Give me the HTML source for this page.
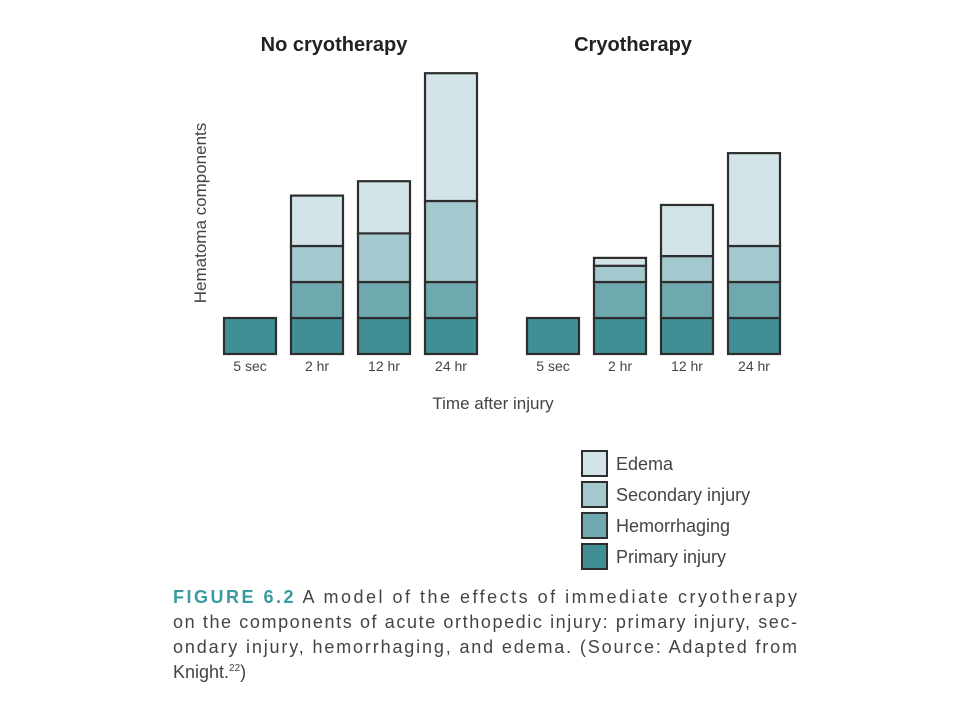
<!DOCTYPE html>
<html><head><meta charset="utf-8"><style>
html,body{margin:0;padding:0;background:#fff;}
svg{display:block;font-family:"Liberation Sans",Arial,sans-serif;}
</style></head><body>
<svg id="chart" width="960" height="720" viewBox="0 0 960 720" xmlns="http://www.w3.org/2000/svg">
<text x="334" y="51" text-anchor="middle" font-size="20" font-weight="bold" fill="#222">No cryotherapy</text>
<text x="633" y="51" text-anchor="middle" font-size="20" font-weight="bold" fill="#222">Cryotherapy</text>
<text transform="translate(206,213) rotate(-90)" text-anchor="middle" font-size="17" fill="#444">Hematoma components</text>
<text x="493" y="409" text-anchor="middle" font-size="17" fill="#444">Time after injury</text>
<g id="bars"></g>
<g id="legend"></g>
<g font-size="18" fill="#444">
<text x="173" y="603" textLength="624" lengthAdjust="spacing"><tspan fill="#3a9aa0" font-weight="bold">FIGURE 6.2</tspan> A model of the effects of immediate cryotherapy</text>
<text x="173" y="628" textLength="624" lengthAdjust="spacing">on the components of acute orthopedic injury: primary injury, sec-</text>
<text x="173" y="653" textLength="624" lengthAdjust="spacing">ondary injury, hemorrhaging, and edema. (Source: Adapted from</text>
<text x="173" y="678">Knight.<tspan font-size="10" dy="-7">22</tspan><tspan dy="7">)</tspan></text>
</g>
</svg>
<script>
const categories = ["5 sec","2 hr","12 hr","24 hr"];
const series = ["Primary injury","Hemorrhaging","Secondary injury","Edema"];
const colors = ["#3f8f95","#6fa9b0","#a3c8cd","#d2e4e7"];
const noCryoPrimary = [1,1,1,1];
const noCryoHemorrhaging = [0,1,1,1];
const noCryoSecondary = [0,1,1.35,2.25];
const noCryoEdema = [0,1.4,1.45,3.55];
const cryoPrimary = [1,1,1,1];
const cryoHemorrhaging = [0,1,1,1];
const cryoSecondary = [0,0.45,0.72,1];
const cryoEdema = [0,0.22,1.42,2.58];

const NS="http://www.w3.org/2000/svg";
const baseY=354, unit=36, barW=52, step=67;
const yScale = v => baseY - v*unit;
const panels=[
  {x0:224, name:"no-cryo", data:[noCryoPrimary,noCryoHemorrhaging,noCryoSecondary,noCryoEdema]},
  {x0:527, name:"cryo", data:[cryoPrimary,cryoHemorrhaging,cryoSecondary,cryoEdema]}
];
const xScale=(p,i)=>p.x0+i*step;
const g=document.getElementById('bars');
panels.forEach(p=>{
  categories.forEach((c,i)=>{
    let cum=0;
    p.data.forEach((arr,s)=>{
      const v=arr[i]; if(v<=0) return;
      const r=document.createElementNS(NS,'rect');
      r.setAttribute('x',xScale(p,i)); r.setAttribute('width',barW);
      r.setAttribute('y',yScale(cum+v)); r.setAttribute('height',v*unit);
      r.setAttribute('fill',colors[s]); r.setAttribute('stroke','#2e2e2e'); r.setAttribute('stroke-width','2.2');
      
      
      g.appendChild(r); cum+=v;
    });
    const t=document.createElementNS(NS,'text');
    t.setAttribute('x',xScale(p,i)+barW/2); t.setAttribute('y',371);
    t.setAttribute('text-anchor','middle'); t.setAttribute('font-size','14'); t.setAttribute('fill','#444');
    t.textContent=c;
    
    
    g.appendChild(t);
  });
});
const lg=document.getElementById('legend');
for(let k=0;k<4;k++){
  const s=3-k, y=451+k*31;
  const r=document.createElementNS(NS,'rect');
  r.setAttribute('x',582); r.setAttribute('y',y); r.setAttribute('width',25); r.setAttribute('height',25);
  r.setAttribute('fill',colors[s]); r.setAttribute('stroke','#2e2e2e'); r.setAttribute('stroke-width','2');
  
  
  lg.appendChild(r);
  const t=document.createElementNS(NS,'text');
  t.setAttribute('x',616); t.setAttribute('y',y+19); t.setAttribute('font-size','18'); t.setAttribute('fill','#444');
  t.textContent=series[s];
  
  
  lg.appendChild(t);
}
</script>
</body></html>
